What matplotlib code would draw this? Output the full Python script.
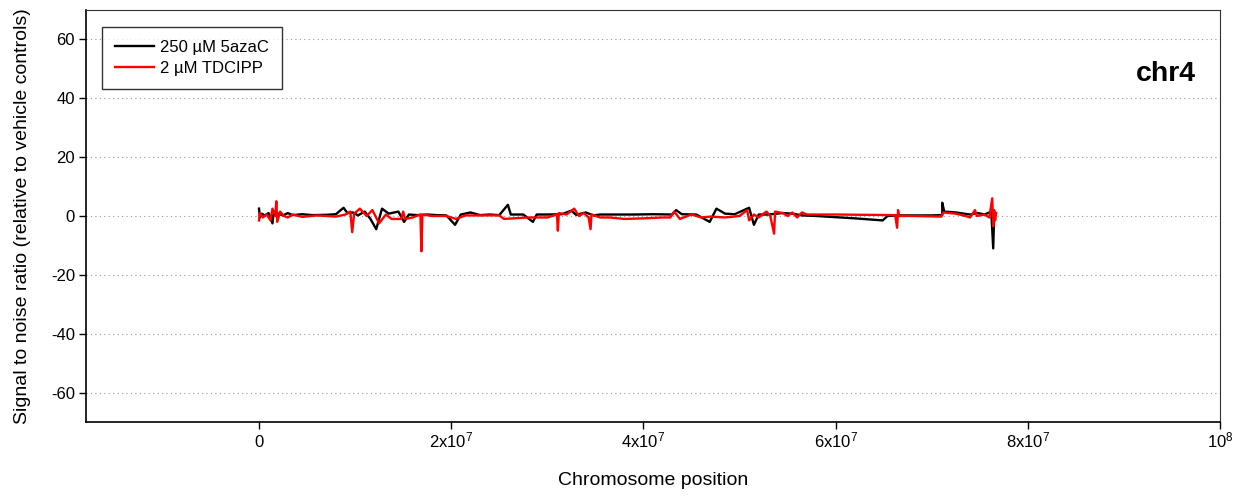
import numpy as np
import matplotlib as mpl
mpl.rcParams['font.family'] = ['Liberation Sans', 'DejaVu Sans']
mpl.rcParams['mathtext.fontset'] = 'custom'
mpl.rcParams['mathtext.rm'] = 'Liberation Sans'
mpl.rcParams['mathtext.it'] = 'Liberation Sans'
mpl.rcParams['axes.unicode_minus'] = False
import matplotlib.pyplot as plt
from matplotlib.ticker import FixedLocator, FuncFormatter

# Signal-to-noise along chr4 (positions in Mb)
aza_pos = [0.0, 0.1, 0.3, 0.6, 1.0, 1.4, 1.5, 2.0, 2.5, 3.0, 3.5, 4.5, 5.5, 7.0, 8.0,
           8.8, 9.2, 9.8, 10.3, 11.0, 11.6, 12.2, 12.8, 13.5, 14.5, 15.1, 15.6, 16.5,
           17.5, 18.5, 19.5, 20.4, 21.0, 22.0, 23.0, 24.0, 25.0, 25.9, 26.2, 27.5,
           28.5, 28.9, 30.0, 31.5, 32.5, 33.0, 34.0, 34.8, 35.5, 37.0, 39.0, 41.0,
           43.0, 43.4, 44.0, 45.5, 46.9, 47.6, 48.5, 49.5, 51.0, 51.5, 52.0, 53.0,
           54.5, 55.5, 56.5, 58.0, 62.0, 64.9, 65.4, 66.5, 68.0, 70.0, 71.1, 71.1,
           71.3, 72.5, 74.0, 74.8, 75.5, 76.2, 76.4, 76.5, 76.6]
aza_snr = [2.5, -0.5, 0.8, 0.2, 1.0, -2.5, 0.5, 0.8, 0.2, 1.0, 0.3, 0.6, 0.3, 0.4, 0.6,
           2.8, 1.0, 1.2, 0.2, 1.5, -1.0, -4.5, 2.5, 0.8, 1.5, -2.0, 0.5, 0.3,
           0.5, 0.3, 0.2, -3.0, 0.5, 1.2, 0.3, 0.5, 0.3, 3.8, 0.5, 0.5,
           -2.0, 0.5, 0.5, 0.6, 1.8, 0.4, 1.2, 0.2, 0.5, 0.5, 0.5, 0.6,
           0.5, 2.0, 0.6, 0.5, -2.0, 2.5, 0.8, 0.6, 2.8, -3.0, 0.5, 0.5,
           1.0, 0.8, 0.2, 0.0, -0.8, -1.5, 0.0, 0.2, 0.2, 0.2, 0.3, 4.5,
           1.5, 1.2, 0.5, 1.0, 0.5, 1.5, -11.0, 0.5, 0.5]

tdcipp_pos = [0.0, 0.1, 0.4, 0.8, 1.2, 1.4, 1.7, 1.8, 1.9, 2.2, 2.6, 3.0, 3.5, 4.5,
              6.0, 8.0, 9.0, 9.5, 9.7, 9.9, 10.5, 11.2, 11.8, 12.5, 13.2, 13.8, 14.8,
              15.0, 15.2, 16.0, 16.8, 16.9, 17.0, 18.0, 19.5, 20.5, 21.5, 23.0, 25.0,
              25.5, 26.5, 28.0, 30.0, 31.0, 31.1, 31.2, 32.0, 32.8, 33.3, 33.8, 34.3,
              34.5, 34.6, 35.5, 36.5, 38.0, 40.0, 42.0, 42.8, 43.2, 43.8, 45.0, 46.0,
              47.0, 48.5, 50.0, 50.8, 51.0, 51.5, 52.0, 52.8, 53.2, 53.6, 53.7, 54.5,
              55.0, 55.5, 56.0, 56.5, 57.0, 60.0, 63.0, 66.2, 66.4, 66.5, 66.6, 68.0,
              71.0, 71.2, 72.5, 73.5, 74.0, 74.5, 74.7, 75.5, 76.0, 76.3, 76.4, 76.5,
              76.6, 76.7]
tdcipp_snr = [-1.5, 1.0, -0.5, 0.5, -1.5, 2.5, 0.0, 5.0, -2.0, 1.5, 0.0, -0.5, 0.5, -0.3,
              0.2, -0.2, 0.5, 1.5, -5.5, 0.8, 2.5, 0.0, 2.0, -2.5, 0.5, -1.0, -1.0,
              1.5, -1.0, -0.5, 0.5, -12.0, 0.5, 0.0, 0.0, -1.0, 0.2, 0.2, 0.2,
              -1.0, -0.8, -0.5, -0.5, 0.5, -5.0, 1.0, 0.5, 2.5, 0.0, 1.0, -0.5,
              -4.5, 0.5, -0.5, -0.5, -1.0, -0.8, -0.5, -0.5, 1.5, -1.0, 0.5, -0.5,
              -0.2, -0.5, 0.0, 2.0, -1.5, 0.5, -0.5, 1.5, 0.0, -6.0, 1.5, 1.0,
              0.0, 1.2, -0.5, 1.2, 0.5, 0.5, 0.4, 0.3, -4.0, 2.0, 0.0, 0.0,
              -0.2, 1.2, 0.8, 0.0, -0.5, 2.0, 0.0, 0.5, -0.5, 6.0, -3.5, 2.0,
              -1.5, 1.0]

xticks = [0, 2e7, 4e7, 6e7, 8e7, 1e8]
xtick_labels = ['0', r'2x10$^{7}$', r'4x10$^{7}$', r'6x10$^{7}$', r'8x10$^{7}$', r'10$^{8}$']
yticks = [-60, -40, -20, 0, 20, 40, 60]

fig = plt.figure(figsize=(12.43, 4.99), dpi=100)
ax = fig.add_axes([0.0692, 0.1543, 0.9123, 0.8257])

l_aza, = ax.plot(np.array(aza_pos) * 1e6, aza_snr, color='black', lw=1.7, zorder=3)
l_tdc, = ax.plot(np.array(tdcipp_pos) * 1e6, tdcipp_snr, color='#ff0000', lw=1.7, zorder=4)

ax.set_xlim(-1.8e7, 1e8)
ax.set_ylim(-70, 70)
ax.xaxis.set_major_locator(FixedLocator(xticks))
ax.xaxis.set_major_formatter(FuncFormatter(lambda v, i: xtick_labels[i]))
ax.set_yticks(yticks)
ax.tick_params(direction='out', length=5, width=1, labelsize=12)
ax.tick_params(axis='x', pad=13)
ax.tick_params(axis='y', pad=3)
for lab in ax.get_xticklabels():
    lab.set_va('baseline')
ax.grid(axis='y', ls=(0, (1, 3)), color='#999999', lw=0.8)
for s in ['top', 'right']:
    ax.spines[s].set_linewidth(0.8)
    ax.spines[s].set_color('#333333')
for s in ['left', 'bottom']:
    ax.spines[s].set_linewidth(1.2)

ax.set_xlabel('Chromosome position', fontsize=14, va='center')
ax.xaxis.set_label_coords(0.5, -0.143)
ax.set_ylabel('Signal to noise ratio (relative to vehicle controls)', fontsize=14, va='center')
ax.yaxis.set_label_coords(-0.0564, 0.5)
ax.text(0.979, 0.845, 'chr4', transform=ax.transAxes, fontsize=20.5, fontweight='bold',
        ha='right', va='center')

leg = ax.legend([l_aza, l_tdc], ['250 µM 5azaC', '2 µM TDCIPP'],
                loc='upper left', bbox_to_anchor=(0.014, 0.959), borderaxespad=0,
                fontsize=12, frameon=True, fancybox=False, edgecolor='black',
                handlelength=2.3, handletextpad=0.4, borderpad=0.8, labelspacing=0.35)
leg.get_frame().set_linewidth(1.0)

fig.savefig('out.png', dpi=100)
